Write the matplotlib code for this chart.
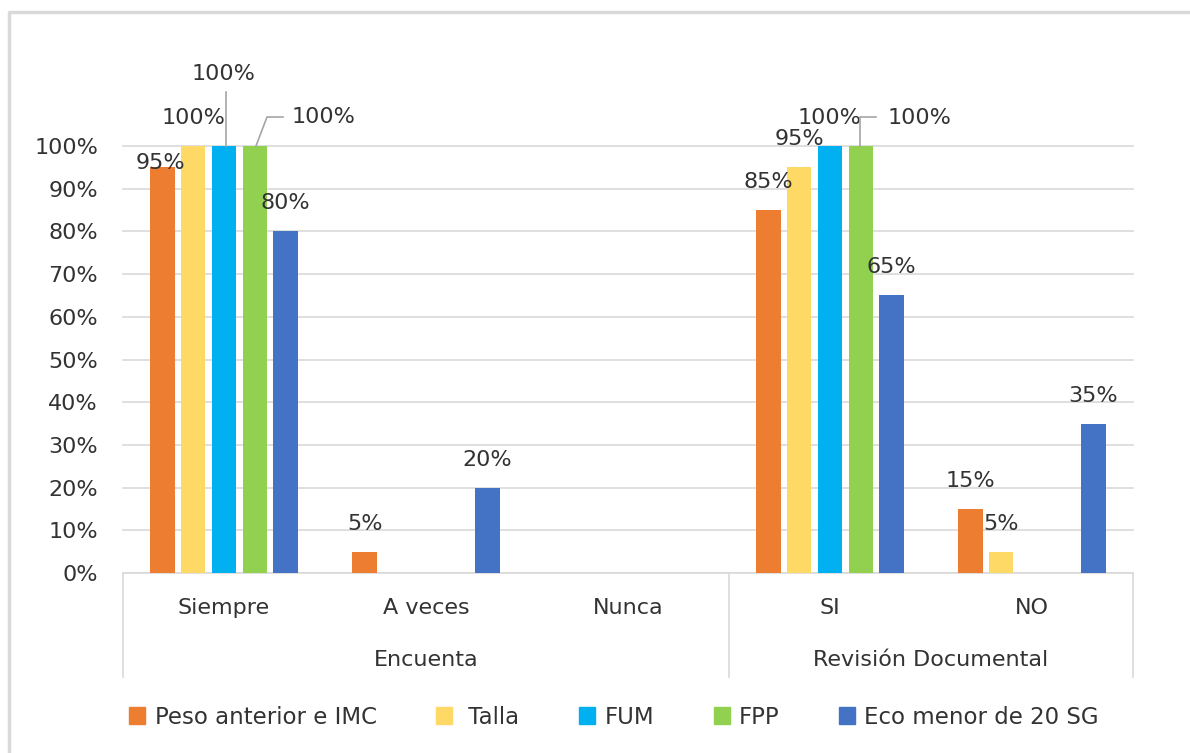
import matplotlib.pyplot as plt
from matplotlib.patches import Rectangle
from matplotlib.lines import Line2D
import matplotlib.transforms as mtransforms

categories = ["Siempre", "A veces", "Nunca", "SI", "NO"]
groups = ["Encuenta", "Revisión Documental"]
group_spans = [(0, 2), (3, 4)]

series = ["Peso anterior e IMC", "Talla", "FUM", "FPP", "Eco menor de 20 SG"]
peso = [95, 5, 0, 85, 15]
talla = [100, 0, 0, 95, 5]
fum = [100, 0, 0, 100, 0]
fpp = [100, 0, 0, 100, 0]
eco = [80, 20, 0, 65, 35]

colors = ["#ED7D31", "#FFD966", "#00B0F0", "#92D050", "#4472C4"]
values = [peso, talla, fum, fpp, eco]

W, H = 1190, 753
FS = 16
TXT = "#333333"
plt.rcParams["font.family"] = ["DejaVu Sans"]

fig = plt.figure(figsize=(W / 100, H / 100), dpi=100)
fig.patch.set_facecolor("white")

# plot area in pixel coords: x 123..1133, y (0%) 573 .. (100%) 146
ax = fig.add_axes([123 / W, 1 - 573 / H, (1133 - 123) / W, (573 - 146) / H])
ax.set_xlim(-0.5, len(categories) - 0.5)
ax.set_ylim(0, 100)
for s in ax.spines.values():
    s.set_visible(False)
ax.set_yticks(range(0, 101, 10))
ax.set_yticklabels([f"{v}%" for v in range(0, 101, 10)], fontsize=FS, color=TXT)
ax.tick_params(axis="y", length=0, pad=18)
ax.set_xticks([])
ax.yaxis.grid(True, color="#D9D9D9", linewidth=1.2)
for gl in ax.get_ygridlines():
    gl.set_clip_on(False)
ax.set_axisbelow(True)
ax.axhline(0, color="#D9D9D9", linewidth=1.2, zorder=1)

step = 0.152
width = 0.12
px_per_pt = 100 / 72.0

# per-label offsets in pixels (dx, dy from bar top); default sits above the bar
label_offsets = {
    (0, 0): (-2, 4),
    (2, 0): (0, 72),
    (3, 0): (69, 29),
    (3, 3): (59, 28),
}

for i, (name, vals, col) in enumerate(zip(series, values, colors)):
    xs = [c + (i - 2) * step for c in range(len(categories))]
    ax.bar(xs, vals, width=width, color=col, label=name, zorder=2)
    for j, (x, v) in enumerate(zip(xs, vals)):
        if v == 0:
            continue
        dx, dy = label_offsets.get((i, j), (0, 28))
        ax.annotate(f"{v}%", (x, v), xytext=(dx / px_per_pt, dy / px_per_pt),
                    textcoords="offset points", ha="center", va="center",
                    fontsize=FS, color=TXT, annotation_clip=False, zorder=3)


def leader(points):
    pts = [(x / W, 1 - y / H) for x, y in points]
    fig.add_artist(Line2D([p[0] for p in pts], [p[1] for p in pts],
                          transform=fig.transFigure, color="#A6A6A6", linewidth=1.2))


# leader lines for the moved labels (pixel coordinates)
leader([(226, 146), (226, 92)])
leader([(256, 146), (267, 117), (283, 117)])
leader([(860, 146), (860, 117), (876, 117)])

# two-level category axis
trans = mtransforms.blended_transform_factory(ax.transData, ax.transAxes)
ax_h = 573 - 146
y_bottom = -(677 - 573) / ax_h
for xb in [-0.5, 2.5, 4.5]:
    ax.add_artist(Line2D([xb, xb], [0, y_bottom], transform=trans, color="#D9D9D9",
                         linewidth=1.2, clip_on=False))
for j, cat in enumerate(categories):
    ax.text(j, -(608 - 573) / ax_h, cat, transform=trans, ha="center", va="center",
            fontsize=FS, color=TXT)
for g, (a, b) in zip(groups, group_spans):
    ax.text((a + b) / 2, -(660 - 573) / ax_h, g, transform=trans, ha="center", va="center",
            fontsize=FS, color=TXT)

# legend
handles = [Rectangle((0, 0), 1, 1, color=c) for c in colors]
labels = [series[0], " Talla", series[2], series[3], series[4]]
fig.legend(handles, labels, loc="center", bbox_to_anchor=(614 / W, 1 - 717 / H), ncol=5,
           frameon=False, fontsize=FS + 0.5, handlelength=0.7, handleheight=0.7,
           handletextpad=0.4, columnspacing=2.6, labelcolor=TXT)

# chart frame (top and left edges)
fig.add_artist(Line2D([8.5 / W, 8.5 / W, 1], [0, 1 - 12 / H, 1 - 12 / H],
                      transform=fig.transFigure, color="#D9D9D9", linewidth=2.5))

fig.savefig("out.png", dpi=100)
